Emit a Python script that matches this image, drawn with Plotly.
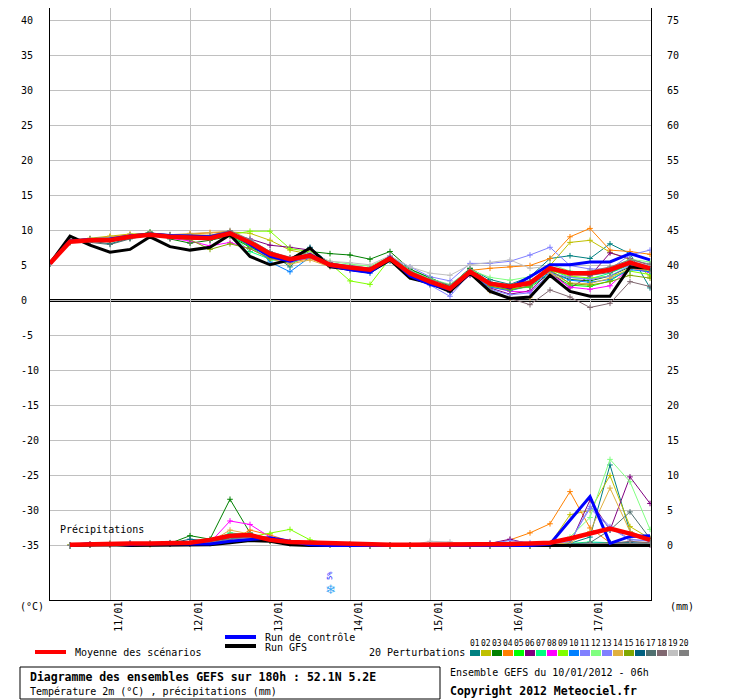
import plotly.graph_objects as go

# forecast steps (hours after 10/01/2012 06h)
hours = list(range(0, 181, 6))
precip_hours = hours[1:]

day_ticks = [18, 42, 66, 90, 114, 138, 162]
day_labels = ["11/01", "12/01", "13/01", "14/01", "15/01", "16/01", "17/01"]
temp_ticks = [40, 35, 30, 25, 20, 15, 10, 5, 0, -5, -10, -15, -20, -25, -30, -35]
right_ticks = [75, 70, 65, 60, 55, 50, 45, 40, 35, 30, 25, 20, 15, 10, 5, 0]

member_names = ["01", "02", "03", "04", "05", "06", "07", "08", "09", "10",
                "11", "12", "13", "14", "15", "16", "17", "18", "19", "20"]
member_colors = ["#008080", "#c0c000", "#008000", "#ff8000", "#00ff00", "#800080", "#00ff80",
                 "#ff00ff", "#80ff00", "#0080ff", "#8080ff", "#80ff80", "#8080ff", "#e0b040",
                 "#80a800", "#006080", "#507070", "#806870", "#c0c0c0", "#808080"]

# 2m temperature (°C)
temp_mean = [5.3, 8.4, 8.6, 8.6, 9.1, 9.4, 9.1, 9.0, 8.9, 9.6, 8.3, 6.7, 5.9, 6.4, 5.1, 4.7,
             4.4, 6.0, 3.9, 2.7, 1.7, 4.1, 2.4, 2.0, 2.5, 4.6, 3.9, 3.9, 4.4, 5.4, 4.6]
temp_gfs = [5.3, 9.2, 7.9, 6.9, 7.3, 9.1, 7.7, 7.2, 7.6, 9.4, 6.3, 5.1, 5.8, 7.5, 4.8, 4.4,
            4.1, 5.8, 3.2, 2.5, 1.3, 3.9, 1.3, 0.3, 0.5, 3.6, 1.3, 0.6, 0.6, 4.8, 4.6]
temp_ctrl = [5.3, 8.5, 8.7, 8.8, 9.2, 9.5, 9.3, 9.2, 9.1, 9.7, 8.0, 6.3, 5.6, 6.6, 5.0, 4.4,
             4.0, 6.2, 3.5, 2.3, 1.6, 4.0, 2.5, 1.8, 3.4, 5.1, 5.1, 5.5, 5.5, 6.7, 5.8]

temp_p01 = [5.3, 8.3, 8.5, 8.1, 8.9, 9.5, 9.0, 8.7, 8.8, 9.7, 8.6, 6.9, 4.8, 7.5, 5.3, 4.9,
            4.6, 6.3, 4.4, 3.2, 2.1, 4.6, 3.0, 2.3, 3.4, 6.0, 6.4, 6.0, 8.1, 6.7, 1.8]
temp_p02 = [5.3, 8.6, 8.9, 9.2, 9.5, 9.6, 9.4, 9.4, 9.3, 9.8, 9.6, 8.6, 7.2, 6.6, 5.2, 4.6,
            4.2, 5.8, 3.8, 2.4, 1.4, 3.8, 2.2, 1.8, 2.6, 5.0, 8.3, 8.6, 6.9, 5.8, 3.5]
temp_p03 = [5.3, 8.5, 8.6, 8.4, 9.0, 9.8, 8.8, 8.2, 8.6, 9.2, 7.6, 6.5, 5.8, 7.0, 6.7, 6.5,
            5.9, 7.0, 4.5, 3.3, 2.0, 4.6, 2.6, 1.9, 2.7, 4.1, 3.0, 2.8, 3.5, 4.8, 4.9]
temp_p04 = [5.3, 8.3, 8.8, 9.1, 9.4, 9.4, 9.2, 9.5, 9.7, 9.8, 8.0, 6.2, 5.4, 6.0, 4.9, 4.4,
            4.2, 6.0, 4.2, 2.9, 1.8, 4.3, 4.6, 4.8, 5.0, 6.0, 9.1, 10.3, 7.2, 7.0, 6.6]
temp_p05 = [5.3, 8.4, 8.7, 8.5, 9.1, 9.3, 9.0, 8.8, 8.7, 9.4, 7.7, 5.8, 6.0, 6.2, 5.0, 4.6,
            4.1, 5.7, 3.6, 2.5, 1.5, 3.9, 2.3, 1.7, 1.9, 3.8, 2.2, 2.0, 2.8, 4.6, 4.2]
temp_p06 = [5.3, 8.4, 8.5, 8.7, 9.2, 9.3, 9.0, 9.1, 8.9, 9.5, 8.8, 7.9, 7.6, 7.2, 5.4, 4.8,
            4.3, 6.1, 4.0, 2.5, 1.2, 3.9, 1.8, 0.9, 1.4, 4.2, 1.8, 3.5, 6.8, 6.0, 5.0]
temp_p07 = [5.3, 8.5, 8.7, 8.8, 9.2, 9.5, 9.3, 9.1, 9.0, 9.5, 7.0, 5.9, 5.3, 6.3, 5.2, 4.8,
            4.5, 6.1, 4.0, 2.6, 1.6, 4.2, 2.5, 2.2, 2.4, 4.4, 3.3, 3.1, 3.9, 5.1, 4.5]
temp_p08 = [5.3, 8.4, 8.6, 8.8, 9.3, 9.5, 8.9, 8.5, 7.8, 8.3, 7.4, 6.0, 5.5, 6.2, 5.0, 4.6,
            4.3, 6.4, 3.9, 2.5, 1.3, 3.6, 2.0, 1.3, 1.2, 3.8, 1.9, 1.6, 2.1, 4.7, 4.0]
temp_p09 = [5.3, 8.3, 8.7, 8.9, 9.3, 9.5, 9.2, 9.0, 8.8, 9.4, 9.9, 9.9, 7.4, 7.0, 5.3, 2.8,
            2.3, 6.0, 3.4, 2.3, 1.5, 4.0, 2.0, 1.6, 2.0, 4.3, 3.5, 3.2, 3.5, 4.2, 3.7]
temp_p10 = [5.3, 8.6, 8.8, 8.9, 9.3, 9.5, 9.4, 9.3, 9.2, 9.7, 8.6, 5.5, 4.1, 6.2, 4.9, 4.3,
            3.9, 5.6, 3.5, 2.3, 1.2, 3.7, 1.9, 1.4, 2.1, 4.0, 2.9, 2.6, 3.0, 4.4, 4.1]
temp_p11 = [5.3, 8.4, 8.7, 8.8, 9.2, 9.4, 9.2, 9.1, 9.0, 9.6, 8.4, 6.6, 5.8, 6.3, 5.3, 5.0,
            4.6, 6.2, 4.8, 3.4, 2.8, 5.3, 5.3, 5.6, 6.5, 7.6, 5.0, 4.5, 4.5, 6.5, 7.2]
temp_p12 = [5.3, 8.5, 8.6, 8.7, 9.1, 9.3, 9.0, 8.9, 8.8, 9.5, 8.1, 6.5, 6.1, 6.6, 5.6, 5.2,
            4.9, 6.3, 4.3, 3.1, 2.3, 4.4, 3.3, 2.9, 3.4, 5.2, 4.2, 4.0, 4.6, 5.9, 5.5]
temp_p13 = [5.3, 8.3, 8.5, 8.5, 9.0, 9.3, 9.0, 8.9, 8.8, 9.6, 8.0, 6.4, 5.6, 6.1, 4.9, 4.5,
            4.0, 5.9, 3.7, 2.2, 0.6, 3.9, 1.6, 0.8, 1.1, 3.9, 3.3, 3.0, 3.5, 5.0, 4.4]
temp_p14 = [5.3, 8.5, 8.8, 9.1, 9.4, 9.6, 9.4, 9.6, 9.7, 9.9, 8.1, 6.0, 5.2, 5.8, 4.8, 4.4,
            4.1, 5.7, 3.7, 2.6, 1.6, 3.8, 1.3, 0.3, 0.4, 3.9, 2.5, 2.4, 3.2, 4.6, 4.3]
temp_p15 = [5.3, 8.4, 8.6, 8.6, 9.0, 9.3, 9.0, 8.7, 7.3, 8.1, 7.4, 6.0, 5.7, 6.3, 5.1, 4.7,
            4.4, 6.0, 3.8, 2.6, 1.5, 4.0, 2.1, 1.5, 2.1, 4.4, 2.4, 2.2, 2.7, 3.6, 3.2]
temp_p16 = [5.3, 8.4, 8.6, 8.5, 9.1, 9.3, 9.1, 9.0, 8.9, 9.6, 8.4, 6.7, 6.0, 7.6, 5.2, 4.9,
            4.5, 6.2, 3.9, 2.7, 1.9, 4.2, 2.6, 2.1, 2.6, 4.6, 3.9, 3.8, 4.3, 5.3, 4.6]
temp_p17 = [5.3, 8.5, 8.3, 8.0, 8.8, 9.4, 9.0, 8.8, 8.7, 9.4, 8.3, 6.8, 6.1, 6.5, 5.0, 4.8,
            4.6, 6.3, 4.1, 2.8, 1.8, 4.3, 2.4, 1.9, 2.6, 4.6, 3.7, 3.6, 4.0, 5.2, 4.5]
temp_p18 = [5.3, 8.5, 8.6, 8.6, 9.1, 9.3, 9.0, 8.8, 8.8, 9.5, 8.2, 6.6, 6.0, 6.5, 5.1, 4.6,
            4.3, 5.9, 3.7, 2.4, 1.4, 3.7, 1.5, 0.3, -0.6, 1.5, 0.5, -1.0, -0.4, 2.7, 2.0]
temp_p19 = [5.3, 8.5, 8.7, 8.8, 9.2, 9.5, 9.2, 9.1, 9.0, 9.6, 8.7, 7.0, 6.2, 6.8, 5.6, 5.4,
            5.1, 6.4, 4.8, 3.9, 3.6, 5.1, 5.4, 5.8, 4.6, 4.9, 3.8, 4.1, 4.3, 5.6, 5.0]
temp_p20 = [5.3, 8.6, 8.8, 8.8, 9.2, 9.6, 9.4, 9.3, 9.3, 10.0, 8.7, 7.0, 6.1, 6.4, 5.3, 4.8,
            4.5, 6.1, 4.2, 3.0, 2.2, 4.4, 2.6, 2.3, 2.8, 4.7, 4.0, 4.2, 4.8, 5.8, 5.2]

# 6h precipitation (mm), from +6h
prec_mean = [0.1, 0.2, 0.2, 0.3, 0.3, 0.3, 0.4, 0.8, 1.4, 1.5, 0.8, 0.5, 0.4, 0.3, 0.2,
             0.1, 0.1, 0.1, 0.1, 0.1, 0.1, 0.1, 0.2, 0.3, 0.4, 1.0, 1.7, 2.4, 1.7, 0.8]
prec_gfs = [0.0, 0.1, 0.1, 0.0, 0.0, 0.1, 0.0, 0.1, 0.4, 0.7, 0.6, 0.1, 0.0, 0.0, 0.0,
            0.0, 0.0, 0.0, 0.0, 0.0, 0.0, 0.0, 0.0, 0.0, 0.0, 0.0, 0.0, 0.0, 0.0, 0.0]
prec_ctrl = [0.0, 0.3, 0.2, 0.1, 0.2, 0.3, 0.2, 0.2, 0.6, 0.9, 1.1, 0.6, 0.1, 0.0, 0.0,
             0.0, 0.0, 0.0, 0.0, 0.0, 0.0, 0.0, 0.0, 0.0, 0.2, 3.6, 7.0, 0.3, 1.3, 1.4]

prec_p01 = [0.0, 0.1, 0.3, 0.2, 0.3, 0.4, 0.5, 0.7, 1.0, 1.5, 1.0, 0.4, 0.3, 0.2, 0.1,
            0.0, 0.0, 0.0, 0.0, 0.0, 0.0, 0.0, 0.0, 0.0, 0.1, 0.3, 1.2, 11.5, 2.0, 0.8]
prec_p02 = [0.1, 0.2, 0.1, 0.2, 0.3, 0.2, 0.4, 0.5, 0.8, 1.4, 1.2, 0.5, 0.3, 0.2, 0.2,
            0.1, 0.0, 0.0, 0.0, 0.0, 0.0, 0.0, 0.0, 0.0, 0.2, 4.4, 5.0, 10.0, 2.7, 1.0]
prec_p03 = [0.0, 0.1, 0.2, 0.3, 0.2, 0.3, 1.4, 0.9, 6.6, 1.8, 0.6, 0.4, 0.2, 0.1, 0.1,
            0.0, 0.0, 0.0, 0.0, 0.0, 0.0, 0.0, 0.0, 0.0, 0.0, 0.1, 0.2, 0.3, 0.2, 0.1]
prec_p04 = [0.0, 0.2, 0.3, 0.2, 0.1, 0.2, 0.3, 0.4, 0.6, 2.2, 1.5, 0.6, 0.3, 0.2, 0.1,
            0.0, 0.0, 0.0, 0.0, 0.0, 0.0, 0.3, 0.8, 1.8, 3.1, 7.7, 2.5, 0.4, 0.2, 0.5]
prec_p05 = [0.0, 0.1, 0.2, 0.2, 0.2, 0.3, 0.3, 0.5, 1.0, 1.3, 0.8, 0.4, 0.3, 0.2, 0.1,
            0.0, 0.0, 0.0, 0.0, 0.0, 0.0, 0.0, 0.0, 0.0, 0.0, 0.2, 0.3, 0.4, 0.3, 0.2]
prec_p06 = [0.0, 0.2, 0.2, 0.3, 0.2, 0.3, 0.3, 0.5, 1.1, 1.6, 1.0, 0.5, 0.3, 0.2, 0.1,
            0.0, 0.0, 0.0, 0.0, 0.0, 0.0, 0.3, 0.9, 0.2, 0.1, 0.2, 6.5, 2.2, 9.8, 6.0]
prec_p07 = [0.0, 0.1, 0.2, 0.2, 0.3, 0.2, 0.3, 0.6, 1.8, 1.5, 0.9, 0.4, 0.3, 0.2, 0.1,
            0.0, 0.0, 0.0, 0.0, 0.0, 0.0, 0.0, 0.0, 0.0, 0.1, 0.3, 0.5, 0.4, 0.3, 0.2]
prec_p08 = [0.0, 0.2, 0.1, 0.2, 0.3, 0.3, 0.2, 0.4, 3.5, 3.0, 1.2, 0.5, 0.3, 0.2, 0.1,
            0.0, 0.0, 0.0, 0.0, 0.0, 0.0, 0.0, 0.0, 0.0, 0.0, 0.1, 0.2, 0.3, 0.2, 0.1]
prec_p09 = [0.0, 0.1, 0.2, 0.2, 0.2, 0.3, 0.2, 0.3, 0.7, 1.2, 1.7, 2.3, 0.8, 0.2, 0.1,
            0.0, 0.0, 0.0, 0.0, 0.0, 0.0, 0.0, 0.0, 0.0, 0.0, 0.1, 0.2, 0.3, 0.3, 0.2]
prec_p10 = [0.0, 0.1, 0.2, 0.3, 0.2, 0.2, 0.3, 0.5, 0.9, 1.2, 0.8, 0.4, 0.3, 0.2, 0.1,
            0.0, 0.0, 0.0, 0.0, 0.0, 0.0, 0.0, 0.0, 0.0, 0.0, 0.2, 0.3, 0.4, 0.3, 0.3]
prec_p11 = [0.0, 0.2, 0.2, 0.3, 0.3, 0.2, 0.3, 0.4, 1.0, 1.3, 0.9, 0.4, 0.3, 0.2, 0.1,
            0.0, 0.0, 0.0, 0.0, 0.0, 0.0, 0.3, 0.7, 0.4, 0.2, 0.6, 5.3, 2.5, 0.8, 0.7]
prec_p12 = [0.0, 0.1, 0.2, 0.2, 0.3, 0.3, 0.3, 0.5, 1.2, 1.4, 0.9, 0.5, 0.3, 0.2, 0.1,
            0.0, 0.0, 0.0, 0.0, 0.0, 0.0, 0.0, 0.0, 0.0, 0.2, 1.2, 4.0, 12.3, 9.1, 2.3]
prec_p13 = [0.0, 0.1, 0.2, 0.2, 0.2, 0.3, 0.3, 0.4, 0.9, 1.1, 0.8, 0.4, 0.3, 0.2, 0.1,
            0.0, 0.0, 0.0, 0.0, 0.0, 0.0, 0.0, 0.0, 0.0, 0.1, 0.5, 5.6, 2.7, 0.9, 0.6]
prec_p14 = [0.0, 0.2, 0.3, 0.2, 0.3, 0.2, 0.4, 0.5, 2.2, 1.6, 1.0, 0.5, 0.3, 0.2, 0.1,
            0.0, 0.0, 0.0, 0.0, 0.0, 0.0, 0.0, 0.0, 0.0, 0.1, 0.4, 2.0, 8.2, 2.0, 0.8]
prec_p15 = [0.0, 0.1, 0.1, 0.2, 0.2, 0.2, 0.3, 0.3, 0.6, 1.0, 0.7, 0.3, 0.2, 0.1, 0.1,
            0.0, 0.0, 0.0, 0.0, 0.0, 0.0, 0.0, 0.0, 0.0, 0.0, 0.1, 0.2, 0.4, 0.3, 0.2]
prec_p16 = [0.0, 0.1, 0.2, 0.2, 0.2, 0.3, 0.9, 0.6, 1.0, 1.3, 0.8, 0.4, 0.3, 0.2, 0.1,
            0.0, 0.0, 0.0, 0.0, 0.0, 0.0, 0.0, 0.0, 0.0, 0.0, 0.1, 0.2, 0.3, 0.4, 0.3]
prec_p17 = [0.0, 0.1, 0.2, 0.2, 0.2, 0.3, 0.3, 0.5, 1.0, 1.4, 0.8, 0.4, 0.3, 0.2, 0.1,
            0.0, 0.0, 0.0, 0.0, 0.0, 0.0, 0.0, 0.0, 0.0, 0.0, 0.2, 0.4, 2.2, 4.8, 1.0]
prec_p18 = [0.0, 0.1, 0.1, 0.2, 0.2, 0.2, 0.3, 0.4, 0.8, 1.1, 0.7, 0.3, 0.2, 0.1, 0.1,
            0.0, 0.0, 0.0, 0.0, 0.0, 0.0, 0.0, 0.0, 0.0, 0.0, 0.1, 0.2, 0.3, 0.6, 0.4]
prec_p19 = [0.0, 0.1, 0.2, 0.2, 0.2, 0.3, 0.3, 0.4, 0.8, 1.1, 0.8, 0.4, 0.3, 0.2, 0.1,
            0.0, 0.0, 0.0, 0.6, 0.5, 0.1, 0.0, 0.0, 0.0, 0.0, 0.1, 0.2, 0.2, 0.3, 0.2]
prec_p20 = [0.0, 0.1, 0.2, 0.2, 0.2, 0.2, 0.3, 0.4, 0.9, 1.2, 0.8, 0.4, 0.3, 0.2, 0.1,
            0.0, 0.0, 0.0, 0.0, 0.0, 0.0, 0.0, 0.0, 0.0, 0.0, 0.1, 0.2, 0.3, 0.3, 0.2]

temp_members = [temp_p01, temp_p02, temp_p03, temp_p04, temp_p05, temp_p06, temp_p07,
                temp_p08, temp_p09, temp_p10, temp_p11, temp_p12, temp_p13, temp_p14,
                temp_p15, temp_p16, temp_p17, temp_p18, temp_p19, temp_p20]
prec_members = [prec_p01, prec_p02, prec_p03, prec_p04, prec_p05, prec_p06, prec_p07,
                prec_p08, prec_p09, prec_p10, prec_p11, prec_p12, prec_p13, prec_p14,
                prec_p15, prec_p16, prec_p17, prec_p18, prec_p19, prec_p20]

FONT = "DejaVu Sans Mono"
OFF = 8  # the page body puts the figure 8px from the top-left corner
W, H = 732, 692
L, R, T, B = 42, 89, 0, 100
PW, PH = W - L - R, H - T - B


def xp(px):
    # page pixel -> paper x
    return (px - OFF - L) / PW


def yp(py):
    # page pixel -> paper y
    return (T + PH - (py - OFF)) / PH


fig = go.Figure()

for i in range(20):
    c = member_colors[i]
    fig.add_trace(go.Scatter(x=hours, y=temp_members[i], mode="lines+markers",
                             line=dict(color=c, width=1),
                             marker=dict(symbol="cross-thin", size=4, line=dict(color=c, width=1)),
                             hoverinfo="skip"))
    fig.add_trace(go.Scatter(x=precip_hours, y=prec_members[i], yaxis="y2", mode="lines+markers",
                             line=dict(color=c, width=1),
                             marker=dict(symbol="cross-thin", size=4, line=dict(color=c, width=1)),
                             hoverinfo="skip"))

fig.add_trace(go.Scatter(x=hours, y=temp_gfs, mode="lines", line=dict(color="black", width=3)))
fig.add_trace(go.Scatter(x=precip_hours, y=prec_gfs, yaxis="y2", mode="lines",
                         line=dict(color="black", width=3)))
fig.add_trace(go.Scatter(x=hours, y=temp_ctrl, mode="lines", line=dict(color="#0000ff", width=3)))
fig.add_trace(go.Scatter(x=precip_hours, y=prec_ctrl, yaxis="y2", mode="lines",
                         line=dict(color="#0000ff", width=3)))
fig.add_trace(go.Scatter(x=hours, y=temp_mean, mode="lines", line=dict(color="#ff0000", width=4.5)))
fig.add_trace(go.Scatter(x=precip_hours, y=prec_mean, yaxis="y2", mode="lines",
                         line=dict(color="#ff0000", width=4.5)))

# double zero line
fig.add_shape(type="line", xref="paper", x0=0, x1=1, yref="y", y0=0, y1=0,
              line=dict(color="black", width=3), layer="between")
fig.add_shape(type="line", xref="paper", x0=0, x1=1, yref="y", y0=0, y1=0,
              line=dict(color="white", width=1), layer="between")

ann = []
for v in temp_ticks:
    ann.append(dict(xref="paper", x=xp(19), xanchor="left", yref="y", y=v, yanchor="middle",
                    text=str(v), showarrow=False, font=dict(family=FONT, size=10, color="black")))
for h, lab in zip(day_ticks, day_labels):
    ann.append(dict(xref="x", x=h + 2.3, xanchor="center", yref="paper", y=yp(617), yanchor="middle",
                    text=lab, textangle=-90, showarrow=False,
                    font=dict(family=FONT, size=10, color="black")))

ann += [
    dict(xref="paper", x=xp(58), xanchor="left", yref="paper", y=yp(529), yanchor="middle",
         text="Précipitations", showarrow=False, font=dict(family=FONT, size=10, color="black")),
    dict(xref="paper", x=xp(18), xanchor="left", yref="paper", y=yp(606), yanchor="middle",
         text="(°C)", showarrow=False, font=dict(family=FONT, size=10, color="black")),
    dict(xref="paper", x=xp(668), xanchor="left", yref="paper", y=yp(606), yanchor="middle",
         text="(mm)", showarrow=False, font=dict(family=FONT, size=10, color="black")),
    dict(xref="x", x=84, xanchor="center", yref="paper", y=yp(589), yanchor="middle",
         text="❄", showarrow=False, font=dict(family="DejaVu Sans", size=13, color="#3fa9f5")),
    dict(xref="x", x=84, xanchor="center", yref="paper", y=yp(576), yanchor="middle",
         text="5%", textangle=-90, showarrow=False, font=dict(family=FONT, size=7, color="#0000ff")),
    dict(xref="paper", x=xp(73), xanchor="left", yref="paper", y=yp(652), yanchor="middle",
         text="Moyenne des scénarios", showarrow=False, font=dict(family=FONT, size=10, color="black")),
    dict(xref="paper", x=xp(263), xanchor="left", yref="paper", y=yp(637), yanchor="middle",
         text="Run de contrôle", showarrow=False, font=dict(family=FONT, size=10, color="black")),
    dict(xref="paper", x=xp(263), xanchor="left", yref="paper", y=yp(647), yanchor="middle",
         text="Run GFS", showarrow=False, font=dict(family=FONT, size=10, color="black")),
    dict(xref="paper", x=xp(367), xanchor="left", yref="paper", y=yp(652), yanchor="middle",
         text="20 Perturbations", showarrow=False, font=dict(family=FONT, size=10, color="black")),
    dict(xref="paper", x=xp(28), xanchor="left", yref="paper", y=yp(677), yanchor="middle",
         text="<b>Diagramme des ensembles GEFS sur 180h : 52.1N 5.2E</b>", showarrow=False,
         font=dict(family=FONT, size=11.5, color="black")),
    dict(xref="paper", x=xp(28), xanchor="left", yref="paper", y=yp(691), yanchor="middle",
         text="Température 2m (°C) , précipitations (mm)", showarrow=False,
         font=dict(family=FONT, size=10, color="black")),
    dict(xref="paper", x=xp(448), xanchor="left", yref="paper", y=yp(672), yanchor="middle",
         text="Ensemble GEFS du 10/01/2012 - 06h", showarrow=False,
         font=dict(family=FONT, size=10, color="black")),
    dict(xref="paper", x=xp(448), xanchor="left", yref="paper", y=yp(691), yanchor="middle",
         text="<b>Copyright 2012 Meteociel.fr</b>", showarrow=False,
         font=dict(family=FONT, size=11.5, color="black")),
]

shapes = [
    dict(type="line", xref="paper", yref="paper", x0=xp(35), x1=xp(66), y0=yp(652), y1=yp(652),
         line=dict(color="#ff0000", width=4)),
    dict(type="line", xref="paper", yref="paper", x0=xp(225), x1=xp(256), y0=yp(637), y1=yp(637),
         line=dict(color="#0000ff", width=4)),
    dict(type="line", xref="paper", yref="paper", x0=xp(225), x1=xp(256), y0=yp(646), y1=yp(646),
         line=dict(color="black", width=4)),
    dict(type="rect", xref="paper", yref="paper", x0=xp(20), x1=xp(440), y0=yp(667), y1=yp(699),
         line=dict(color="black", width=1)),
]
for i, (name, c) in enumerate(zip(member_names, member_colors)):
    x0 = 470 + 11 * i
    shapes.append(dict(type="rect", xref="paper", yref="paper", x0=xp(x0), x1=xp(x0 + 10),
                       y0=yp(650), y1=yp(656), line=dict(width=0), fillcolor=c))
    ann.append(dict(xref="paper", x=xp(x0 + 5), xanchor="center", yref="paper", y=yp(643),
                    yanchor="middle", text=name, showarrow=False,
                    font=dict(family=FONT, size=8, color="black")))

for s in shapes:
    fig.add_shape(**s)

fig.update_layout(
    width=W, height=H, autosize=False,
    margin=dict(l=L, r=R, t=T, b=B),
    paper_bgcolor="white", plot_bgcolor="white",
    showlegend=False,
    annotations=ann,
    xaxis=dict(range=[0, 180.3], tickvals=day_ticks, showticklabels=False, ticks="",
               showgrid=True, gridcolor="#c0c0c0", gridwidth=1, zeroline=False,
               showline=True, linecolor="black", linewidth=1, mirror=False),
    yaxis=dict(range=[-42.79, 41.79], tickvals=temp_ticks, showticklabels=False, ticks="",
               showgrid=True, gridcolor="#c0c0c0", gridwidth=1, zeroline=False,
               showline=True, linecolor="black", linewidth=1, mirror=True),
    yaxis2=dict(range=[-7.79, 76.79], overlaying="y", side="right", tickvals=right_ticks,
                showgrid=False, zeroline=False, ticks="", showline=False,
                ticklabelstandoff=15,
                tickfont=dict(family=FONT, size=10, color="black")),
)

fig.write_html("out.html")
